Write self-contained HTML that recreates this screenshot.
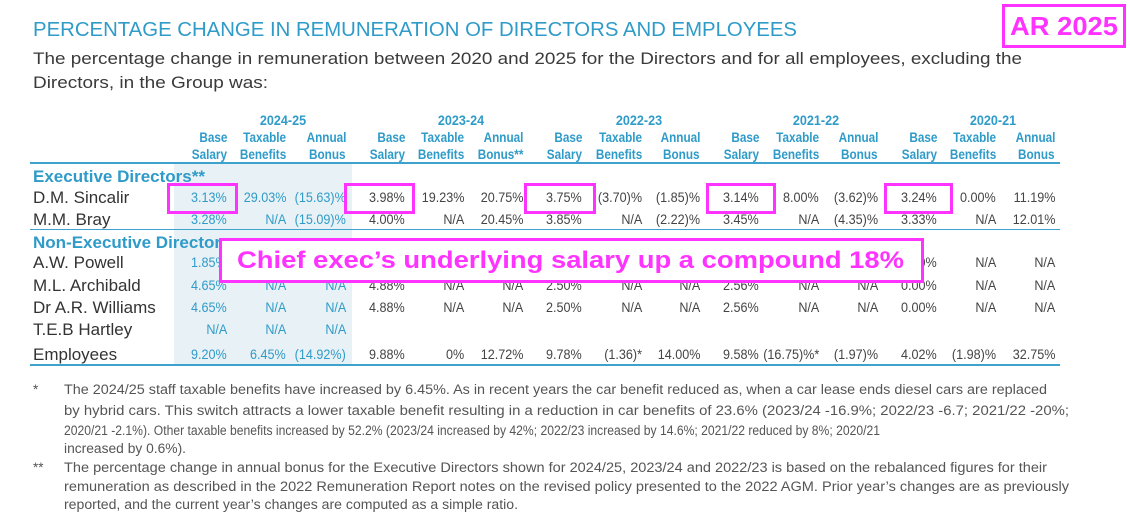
<!DOCTYPE html>
<html><head><meta charset="utf-8">
<style>
body{margin:0;width:1130px;height:520px;background:#fff;position:relative;overflow:hidden;font-family:"Liberation Sans",sans-serif;}
.a{position:absolute;white-space:nowrap;line-height:1;}
.fit{display:inline-block;transform-origin:left center;}
.h{color:#2f9bc8;font-size:14px;}
.d{font-size:14px;color:#444;transform:scaleX(0.9);transform-origin:right center;}
.nm{font-size:17px;color:#333;}
.fn{font-size:13.5px;color:#555;}
.ln{position:absolute;height:2px;background:#3ea3cc;left:30px;width:1030px;}
.box{position:absolute;border:3px solid #ff33ff;box-sizing:border-box;}
</style></head><body>
<div id="shade" style="position:absolute;left:174px;top:164px;width:178px;height:200px;background:#e8f1f5;"></div>

<div class="a" style="left:33px;top:20px;font-size:20px;color:#2f9bc8;"><span class="fit" data-w="764">PERCENTAGE CHANGE IN REMUNERATION OF DIRECTORS AND EMPLOYEES</span></div>
<div class="a" style="left:33px;top:50px;font-size:17px;color:#3a3a3a;"><span class="fit" data-w="989">The percentage change in remuneration between 2020 and 2025 for the Directors and for all employees, excluding the</span></div>
<div class="a" style="left:33px;top:74px;font-size:17px;color:#3a3a3a;"><span class="fit" data-w="235">Directors, in the Group was:</span></div>

<div class="box" style="left:1002px;top:4px;width:124px;height:44px;"></div>
<div class="a" style="left:1010px;top:13px;font-size:26px;font-weight:bold;color:#ff33ff;"><span class="fit" data-w="108">AR 2025</span></div>

<div id="tbl"></div>

<div class="ln" style="top:162px;"></div>
<div class="ln" style="top:229px;height:1px;"></div>
<div class="ln" style="top:364px;"></div>

<div class="box" style="left:167px;top:183px;width:71px;height:31px;"></div>
<div class="box" style="left:344px;top:183px;width:71px;height:31px;"></div>
<div class="box" style="left:524px;top:183px;width:72px;height:31px;"></div>
<div class="box" style="left:706px;top:183px;width:70px;height:31px;"></div>
<div class="box" style="left:884px;top:183px;width:69px;height:31px;"></div>

<div class="box" style="left:219px;top:238px;width:705px;height:45px;background:#fff;"></div>
<div class="a" style="left:237px;top:249px;font-size:24px;font-weight:bold;color:#ff33ff;"><span class="fit" data-w="667">Chief exec’s underlying salary up a compound 18%</span></div>

<div id="fns"></div>

<script>
const years=["2024-25","2023-24","2022-23","2021-22","2020-21"];
const colHead1=["Base","Taxable","Annual"];
const colHead2=["Salary","Benefits","Bonus"];
const rightEdges=[227,286,346,405,464,523,582,642,700,759,819,878,937,996,1055];
const rowNames=["D.M. Sincalir","M.M. Bray","A.W. Powell","M.L. Archibald","Dr A.R. Williams","T.E.B Hartley","Employees"];
const rowY=[198,220,263,286,308,330,355];
const rowVals=[
["3.13%","29.03%","(15.63)%","3.98%","19.23%","20.75%","3.75%","(3.70)%","(1.85)%","3.14%","8.00%","(3.62)%","3.24%","0.00%","11.19%"],
["3.28%","N/A","(15.09)%","4.00%","N/A","20.45%","3.85%","N/A","(2.22)%","3.45%","N/A","(4.35)%","3.33%","N/A","12.01%"],
["1.85%","N/A","N/A","4.88%","N/A","N/A","2.50%","N/A","N/A","2.56%","N/A","N/A","0.00%","N/A","N/A"],
["4.65%","N/A","N/A","4.88%","N/A","N/A","2.50%","N/A","N/A","2.56%","N/A","N/A","0.00%","N/A","N/A"],
["4.65%","N/A","N/A","4.88%","N/A","N/A","2.50%","N/A","N/A","2.56%","N/A","N/A","0.00%","N/A","N/A"],
["N/A","N/A","N/A","","","","","","","","","","","",""],
["9.20%","6.45%","(14.92%)","9.88%","0%","12.72%","9.78%","(1.36)*","14.00%","9.58%","(16.75)%*","(1.97)%","4.02%","(1.98)%","32.75%"]
];
const fnLines=[
["*","The 2024/25 staff taxable benefits have increased by 6.45%. As in recent years the car benefit reduced as, when a car lease ends diesel cars are replaced",983],
["","by hybrid cars. This switch attracts a lower taxable benefit resulting in a reduction in car benefits of 23.6% (2023/24 -16.9%; 2022/23 -6.7; 2021/22 -20%;",1005],
["","2020/21 -2.1%). Other taxable benefits increased by 52.2% (2023/24 increased by 42%; 2022/23 increased by 14.6%; 2021/22 reduced by 8%; 2020/21",816],
["","increased by 0.6%).",122],
["**","The percentage change in annual bonus for the Executive Directors shown for 2024/25, 2023/24 and 2022/23 is based on the rebalanced figures for their",983],
["","remuneration as described in the 2022 Remuneration Report notes on the revised policy presented to the 2022 AGM. Prior year’s changes are as previously",1005],
["","reported, and the current year’s changes are computed as a simple ratio.",454]
];
const fnY=[391,412,432,450,469,488,506];

const tbl=document.getElementById('tbl');
function txt(parent,cls,x,y,s,right){
  const d=document.createElement('div');
  d.className='a '+cls;
  d.textContent=s;
  d.style.top=(y-8)+'px';
  if(right){d.style.right=(1130-x)+'px';d.style.textAlign='right';}
  else d.style.left=x+'px';
  parent.appendChild(d);return d;
}
years.forEach((y,i)=>{
  const el=txt(tbl,'h',rightEdges[i*3+1]-3,121,y,false);
  el.style.fontWeight='bold';el.style.transform='translateX(-50%) scaleX(0.9)';
  
  
});
rightEdges.forEach((x,i)=>{
  const e1=txt(tbl,'h',x,138,colHead1[i%3],true);
  e1.style.fontWeight='bold';e1.style.transform='scaleX(0.84)';e1.style.transformOrigin='right center';
  
  
  const e2=txt(tbl,'h',x,155,colHead2[i%3]+((i===5)?'**':''),true);
  e2.style.fontWeight='bold';e2.style.transform='scaleX(0.84)';e2.style.transformOrigin='right center';
  
  
});
const g1=txt(tbl,'h',33,176,'Executive Directors**',false);
g1.style.fontSize='17px';g1.style.fontWeight='bold';


const g2=txt(tbl,'h',33,242,'Non-Executive Directors',false);
g2.style.fontSize='17px';g2.style.fontWeight='bold';


rowNames.forEach((n,r)=>{
  const el=txt(tbl,'nm',33,rowY[r]-1,n,false);
  
  
  rowVals[r].forEach((v,c)=>{
    if(!v)return;
    const e=txt(tbl,'d',rightEdges[c],rowY[r],v,true);
    if(c<3)e.style.color='#2f9bc8';
    
    
  });
});
const fns=document.getElementById('fns');
fnLines.forEach((l,i)=>{
  if(l[0]){const m=txt(fns,'fn',33,fnY[i],l[0],false);
    
    }
  const d=txt(fns,'fn',64,fnY[i],'',false);
  
  
  const s=document.createElement('span');s.className='fit';s.textContent=l[1];s.dataset.w=l[2];
  d.appendChild(s);
});
document.querySelectorAll('.fit').forEach(s=>{
  const w=+s.dataset.w, cw=s.getBoundingClientRect().width;
  if(cw>0)s.style.transform='scaleX('+(w/cw)+')';
});
</script>
</body></html>
